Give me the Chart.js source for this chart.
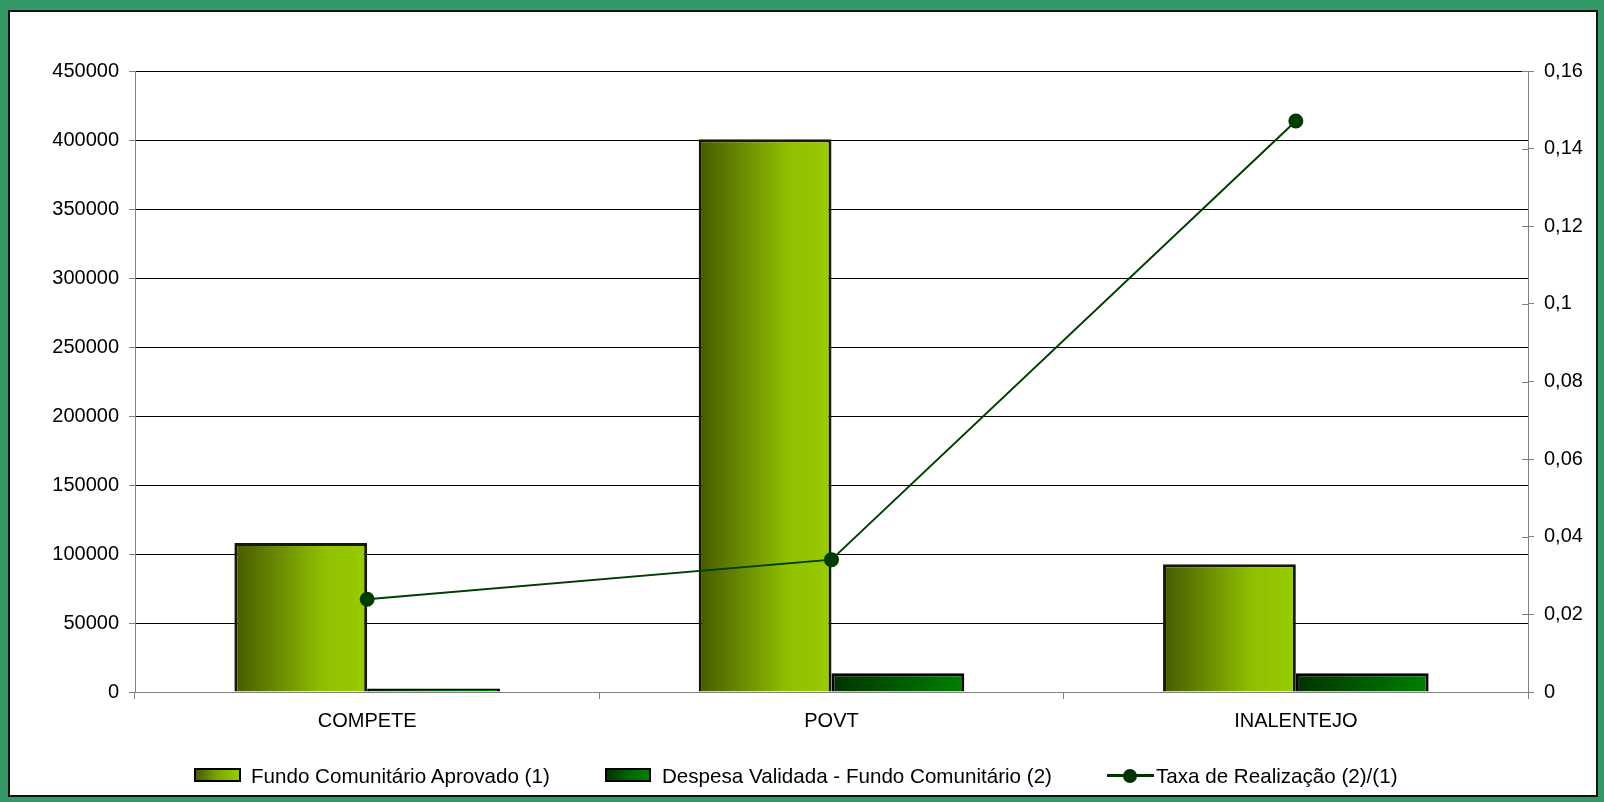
<!DOCTYPE html>
<html>
<head>
<meta charset="utf-8">
<script src="https://cdn.jsdelivr.net/npm/chart.js@4"></script>
<style>
  html, body { margin: 0; padding: 0; }
  body { width: 1604px; height: 802px; background: #339966; position: relative; overflow: hidden;
         font-family: "Liberation Sans", Arial, sans-serif; }
  #frame { position: absolute; left: 8px; top: 10px; width: 1586px; height: 783px;
           background: #fff; border: 2px solid #111; }
  #chart { position: absolute; left: 0; top: 0; }
  .lg { position: absolute; font-size: 20.6px; line-height: 24px; color: #000; white-space: nowrap; }
  .box { position: absolute; height: 10px; border: 2px solid #000; }
</style>
</head>
<body>
<div id="frame"></div>
<canvas id="chart" width="1604" height="802"></canvas>

<!-- legend -->
<div class="box" style="left:194px;top:768px;width:43px;background:linear-gradient(to right,#465a00,#7aa800,#99cc00);"></div>
<div class="lg" style="left:251px;top:764px;">Fundo Comunitário Aprovado (1)</div>
<div class="box" style="left:605px;top:768px;width:42px;background:linear-gradient(to right,#003300,#006600,#008000);"></div>
<div class="lg" style="left:662px;top:764px;">Despesa Validada - Fundo Comunitário (2)</div>
<div style="position:absolute;left:1107px;top:774px;width:47px;height:3px;background:#003300;"></div>
<div style="position:absolute;left:1123px;top:769px;width:14px;height:14px;border-radius:50%;background:#003300;"></div>
<div class="lg" style="left:1156px;top:764px;">Taxa de Realização (2)/(1)</div>

<script>
// values
const categories = ["COMPETE", "POVT", "INALENTEJO"];
const fundoAprovado = [108000, 400500, 92500];
const despesaValidada = [2600, 13600, 13550];
const taxaRealizacao = [0.0239, 0.0341, 0.1471];

const leftTicks = [0, 50000, 100000, 150000, 200000, 250000, 300000, 350000, 400000, 450000];
const rightTicks = [0, 0.02, 0.04, 0.06, 0.08, 0.1, 0.12, 0.14, 0.16];

const CAT_PCT = 0.572;
const FONT = { family: "'Liberation Sans', Arial, sans-serif", size: 20 };

// horizontal gradient across each bar
function barFill(colors, slot) {
  return (c) => {
    const chart = c.chart;
    const xs = chart.scales.x;
    if (!chart.chartArea || c.type !== "data" || !xs) return colors[colors.length - 1];
    const w = (xs.width / categories.length) * CAT_PCT / 2;
    const left = xs.getPixelForValue(c.dataIndex) - w + slot * w;
    const g = chart.ctx.createLinearGradient(left, 0, left + w, 0);
    colors.forEach((col, i) => g.addColorStop(i / (colors.length - 1), col));
    return g;
  };
}

// right axis ticks cross the axis line (inner half)
const crossTicks = {
  id: "crossTicks",
  afterDraw(chart) {
    const s = chart.scales.y2;
    const c = chart.ctx;
    c.save();
    c.strokeStyle = "#808080";
    c.lineWidth = 1;
    s.ticks.forEach((t) => {
      const y = Math.round(s.getPixelForValue(t.value)) + 0.5;
      c.beginPath();
      c.moveTo(s.left - 6, y);
      c.lineTo(s.left, y);
      c.stroke();
    });
    c.restore();
  }
};

const ctx = document.getElementById("chart").getContext("2d");
new Chart(ctx, {
  data: {
    labels: categories,
    datasets: [
      {
        type: "line",
        label: "Taxa de Realização (2)/(1)",
        data: taxaRealizacao,
        yAxisID: "y2",
        borderColor: "#003d00",
        borderWidth: 2,
        pointRadius: 6.5,
        pointBackgroundColor: "#003d00",
        pointBorderColor: "#003d00",
        tension: 0,
        order: 0
      },
      {
        type: "bar",
        label: "Fundo Comunitário Aprovado (1)",
        data: fundoAprovado,
        yAxisID: "y",
        backgroundColor: barFill(["#465a00", "#6a8c00", "#8fbf00", "#99cc00"], 0),
        borderColor: "#151a00",
        borderWidth: 3,
        categoryPercentage: CAT_PCT,
        barPercentage: 1,
        order: 1
      },
      {
        type: "bar",
        label: "Despesa Validada - Fundo Comunitário (2)",
        data: despesaValidada,
        yAxisID: "y",
        backgroundColor: barFill(["#003300", "#005a00", "#008000"], 1),
        borderColor: "#000",
        borderWidth: 3,
        categoryPercentage: CAT_PCT,
        barPercentage: 1,
        order: 1
      }
    ]
  },
  options: {
    responsive: false,
    animation: false,
    devicePixelRatio: 1,
    layout: { padding: { top: 71, left: 0, right: 0, bottom: 0 } },
    plugins: { legend: { display: false }, tooltip: { enabled: false } },
    scales: {
      x: {
        type: "category",
        offset: true,
        afterFit: (s) => { s.height = 110; },
        grid: { offset: true, drawOnChartArea: false, tickLength: 7, tickColor: "#808080", color: "#808080" },
        border: { color: "#808080", width: 1 },
        ticks: { color: "#000", font: FONT, padding: 10 }
      },
      y: {
        position: "left",
        min: 0,
        max: 450000,
        afterFit: (s) => { s.width = 135; },
        afterBuildTicks: (s) => { s.ticks = leftTicks.map((v) => ({ value: v })); },
        grid: {
          color: (c) => (c.tick && c.tick.value === 0 ? "#808080" : "#000"),
          tickColor: "#808080",
          tickLength: 6,
          lineWidth: 1
        },
        border: { color: "#808080", width: 1 },
        ticks: { color: "#000", font: FONT, padding: 10, callback: (v) => String(v) }
      },
      y2: {
        position: "right",
        min: 0,
        max: 0.16,
        afterFit: (s) => { s.width = 76; },
        afterBuildTicks: (s) => { s.ticks = rightTicks.map((v) => ({ value: v })); },
        grid: { drawOnChartArea: false, tickColor: "#808080", tickLength: 6 },
        border: { color: "#808080", width: 1 },
        ticks: {
          color: "#000",
          font: FONT,
          padding: 10,
          callback: (v) => String(Math.round(v * 100) / 100).replace(".", ",")
        }
      }
    }
  },
  plugins: [crossTicks]
});
</script>
</body>
</html>
